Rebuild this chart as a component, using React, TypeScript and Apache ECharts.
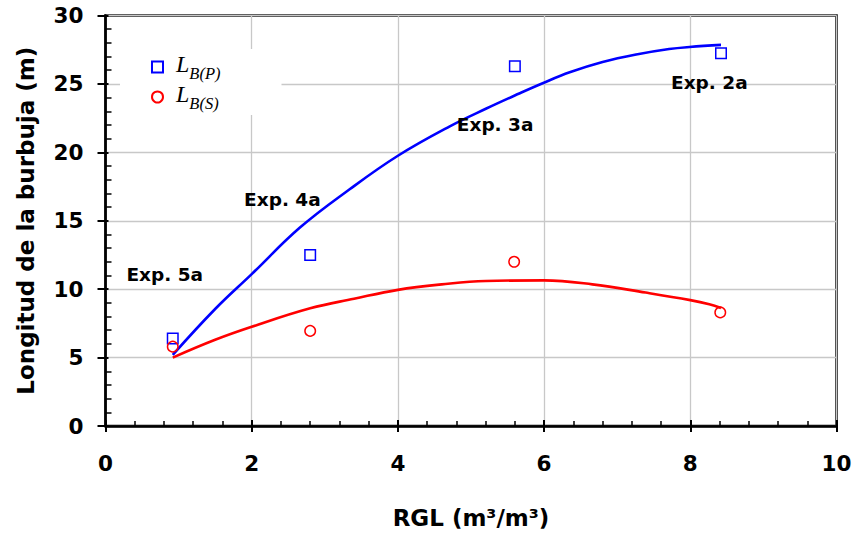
import React, { useEffect, useRef } from "react";
import * as echarts from "echarts";

// Measured points
const rglP = [0.92, 2.8, 5.6, 8.42];
const lbP = [6.4, 12.5, 26.3, 27.25];
const rglS = [0.92, 2.8, 5.59, 8.41];
const lbS = [5.8, 6.95, 12.0, 8.3];

// Fitted curves
const curvePX = [0.92, 1.5, 2.0, 2.66, 3.34, 4.0, 4.71, 5.21, 5.66, 5.98, 6.35, 6.8, 7.26, 7.71, 7.99, 8.42];
const curvePY = [5.2, 8.55, 11.1, 14.5, 17.3, 19.75, 21.9, 23.2, 24.3, 25.05, 25.85, 26.6, 27.15, 27.55, 27.7, 27.85];
const curveSX = [0.92, 1.5, 2.0, 2.8, 3.4, 4.0, 4.6, 5.2, 6.0, 6.66, 7.39, 8.0, 8.26, 8.42];
const curveSY = [5.0, 6.3, 7.25, 8.6, 9.3, 9.95, 10.35, 10.6, 10.64, 10.35, 9.75, 9.2, 8.9, 8.63];

// Annotations
const annotX = [0.81, 2.42, 5.33, 8.26];
const annotY = [11.06, 16.55, 22.0, 25.1];
const annotText = ["Exp. 5a", "Exp. 4a", "Exp. 3a", "Exp. 2a"];

const xTitle = "RGL (m³/m³)";
const yTitle = "Longitud de la burbuja (m)";
const nameP = "LBP";
const nameS = "LBS";

const zip = (a: number[], b: number[]) => a.map((v, i) => [v, b[i]]);

const SANS = "DejaVu Sans";

export default function App() {
  const ref = useRef<HTMLDivElement>(null);
  useEffect(() => {
    const chart = echarts.init(ref.current!, null, { renderer: "svg" });
    const labelStyle = { fontFamily: SANS, fontWeight: "bold" as const, fontSize: 21.5, color: "#000" };
    const option: any = {
      animation: false,
      backgroundColor: "#fff",
      grid: {
        left: 105.5,
        right: 19.5,
        top: 15.5,
        bottom: 107.5,
        show: true,
        borderColor: "#000",
        borderWidth: 2.5,
        backgroundColor: "transparent",
      },
      xAxis: [
        {
          type: "value",
          position: "bottom",
          min: 0,
          max: 10,
          interval: 2,
          name: xTitle,
          nameLocation: "middle",
          nameGap: 80,
          nameTextStyle: { fontFamily: SANS, fontWeight: "bold", fontSize: 23, color: "#000" },
          axisLine: { show: true, onZero: false, lineStyle: { color: "#000", width: 2.5 } },
          axisTick: { show: true, inside: false, length: 6, lineStyle: { color: "#000", width: 2 } },
          axisLabel: { ...labelStyle, margin: 26 },
          splitLine: { show: true, lineStyle: { color: "#c8c8c8", width: 1.3 } },
          minorTick: { show: false },
        },
        {
          type: "value",
          position: "bottom",
          min: 0,
          max: 10,
          interval: 2,
          axisLine: { show: false, onZero: false },
          axisTick: { show: true, inside: true, length: 6, lineStyle: { color: "#000", width: 2 } },
          axisLabel: { show: false },
          splitLine: { show: false },
          minorTick: { show: true, splitNumber: 5, length: 5, lineStyle: { color: "#000", width: 1.5 } },
        },
      ],
      yAxis: [
        {
          type: "value",
          position: "left",
          min: 0,
          max: 30,
          interval: 5,
          name: yTitle,
          nameLocation: "middle",
          nameGap: 68,
          nameTextStyle: { fontFamily: SANS, fontWeight: "bold", fontSize: 23, color: "#000" },
          axisLine: { show: true, onZero: false, lineStyle: { color: "#000", width: 2.5 } },
          axisTick: { show: true, inside: false, length: 8, lineStyle: { color: "#000", width: 2 } },
          axisLabel: { ...labelStyle, margin: 22 },
          splitLine: { show: true, lineStyle: { color: "#c8c8c8", width: 1.3 } },
          minorTick: { show: false },
        },
        {
          type: "value",
          position: "left",
          min: 0,
          max: 30,
          interval: 5,
          axisLine: { show: false, onZero: false },
          axisTick: { show: true, inside: true, length: 3, lineStyle: { color: "#000", width: 2 } },
          axisLabel: { show: false },
          splitLine: { show: false },
          minorTick: { show: true, splitNumber: 5, length: 6, lineStyle: { color: "#000", width: 1.5 } },
        },
      ],
      legend: {
        orient: "vertical",
        left: 120,
        top: 49,
        backgroundColor: "#fff",
        padding: [3, 61, 3, 31],
        itemGap: 0,
        itemWidth: 11,
        itemHeight: 11,
        data: [nameP, nameS],
        formatter: (name: string) =>
          name === nameP ? "{L|L}{s|B(P)}" : "{L|L}{s|B(S)}",
        textStyle: {
          rich: {
            L: {
              fontFamily: "Liberation Serif",
              fontStyle: "italic",
              fontSize: 24,
              color: "#000",
              padding: [0, 0, 6, 8],
            },
            s: {
              fontFamily: "Liberation Serif",
              fontStyle: "italic",
              fontSize: 16.5,
              color: "#000",
              verticalAlign: "bottom",
            },
          },
        },
      },
      series: [
        {
          name: "curveP",
          type: "line",
          data: zip(curvePX, curvePY),
          smooth: 0.4,
          showSymbol: false,
          lineStyle: { color: "#0000ff", width: 2.6 },
          z: 2,
        },
        {
          name: "curveS",
          type: "line",
          data: zip(curveSX, curveSY),
          smooth: 0.4,
          showSymbol: false,
          lineStyle: { color: "#ff0000", width: 2.6 },
          z: 2,
        },
        {
          name: nameP,
          type: "scatter",
          data: zip(rglP, lbP),
          symbol: "rect",
          symbolSize: 10.5,
          itemStyle: { color: "rgba(255,255,255,0)", borderColor: "#0000ff", borderWidth: 1.5, opacity: 1 },
          z: 3,
        },
        {
          name: nameS,
          type: "scatter",
          data: zip(rglS, lbS),
          symbol: "circle",
          symbolSize: 10.5,
          itemStyle: { color: "rgba(255,255,255,0)", borderColor: "#ff0000", borderWidth: 1.5, opacity: 1 },
          z: 3,
        },
        {
          name: "annot",
          type: "scatter",
          silent: true,
          symbolSize: 0,
          itemStyle: { color: "#000", opacity: 1 },
          data: annotX.map((x, i) => ({ value: [x, annotY[i]], name: annotText[i] })),
          label: {
            show: true,
            position: "inside",
            formatter: "{b}",
            fontFamily: SANS,
            fontWeight: "bold",
            fontSize: 18.5,
            color: "#000",
            opacity: 1,
            textBorderWidth: 0,
          },
          z: 4,
        },
      ],
    };
    chart.setOption(option);
    return () => chart.dispose();
  }, []);
  return (
    <div
      ref={ref}
      style={{ position: "absolute", left: 0, top: 0, width: 856, height: 534 }}
    />
  );
}
